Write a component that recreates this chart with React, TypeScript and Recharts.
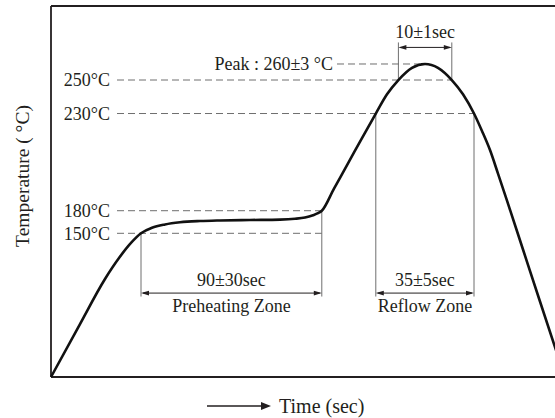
import { LineChart, Line, XAxis, YAxis, ReferenceLine } from 'recharts';

// reflow profile (time axis is schematic, 2px per sec)
const TIME_SEC = [
  0, 14.5, 27, 34, 40, 45, 50.5, 57, 64.5, 74.5, 84.5, 99.5, 114.5, 122, 127, 131, 133.5, 135.4,
  141.5, 148.5, 155.5, 162.4, 168, 173.7, 180.5, 187, 193.5, 200.4, 206, 211.5,
  215.5, 219.5, 223.5, 228, 236, 244.5, 256.9,
];
const TEMP_C = [
  25, 71.1, 110.3, 128.5, 141.6, 150, 157.3, 161.7, 164.6, 166.3, 167.1, 167.7, 168.2, 169.3, 171, 174, 176.7, 180,
  191.4, 204.3, 217.4, 230, 241.5, 250, 257.6, 260, 257.6, 250, 241.5, 230,
  221, 211.2, 199.1, 185.2, 135.9, 90.7, 25,
];

// guide lines
const GUIDE_TEMPS = [250, 230, 180, 150];
const GUIDE_LABELS = ['250°C', '230°C', '180°C', '150°C'];
const GUIDE_START = 33;
const GUIDE_ENDS = [200.4, 211.5, 135.4, 135.4];

const PEAK_TEMP = 260;
const PEAK_LABEL = 'Peak : 260±3 °C';
const PEAK_LINE = [143, 184.5];

// zones: [start, end] in sec, temps where the markers leave the curve
const PREHEAT = [45, 135.4];
const PREHEAT_TEMPS = [150, 180];
const REFLOW = [162.4, 211.5];
const REFLOW_TEMP = 230;
const PEAK_WINDOW = [173.7, 200.4];
const PEAK_WINDOW_TEMP = 250;

// the temperature axis of the drawing is not to scale
const TEMP_KNOTS = [25, 150, 180, 230, 250, 260, 295];
const KNOT_HEIGHTS = [0, 0.3873, 0.4482, 0.7102, 0.8005, 0.8437, 1];

const FONT = "'Liberation Serif', 'Times New Roman', serif";
const INK = '#231f20';
const GUIDE = '#6e6e6e';

const data = TIME_SEC.map((t, i) => ({ t, temp: TEMP_C[i] }));

function schematicScale(): any {
  let dom = [TEMP_KNOTS[0], TEMP_KNOTS[TEMP_KNOTS.length - 1]];
  let rng = [0, 1];
  const frac = (v: number) => {
    const k = TEMP_KNOTS;
    const h = KNOT_HEIGHTS;
    for (let i = 1; i < k.length; i++) {
      if (v <= k[i] || i === k.length - 1) {
        return h[i - 1] + ((v - k[i - 1]) / (k[i] - k[i - 1])) * (h[i] - h[i - 1]);
      }
    }
    return 1;
  };
  const s: any = (v: number) => rng[0] + (rng[1] - rng[0]) * frac(Number(v));
  s.domain = (d?: number[]) => {
    if (d === undefined) return dom.slice();
    dom = d.slice();
    return s;
  };
  s.range = (r?: number[]) => {
    if (r === undefined) return rng.slice();
    rng = r.slice();
    return s;
  };
  s.copy = () => schematicScale().domain(dom).range(rng);
  s.ticks = () => TEMP_KNOTS.slice();
  s.tickFormat = () => (v: number) => String(v);
  s.invert = (px: number) => {
    const f = (px - rng[0]) / (rng[1] - rng[0]);
    const k = TEMP_KNOTS;
    const h = KNOT_HEIGHTS;
    for (let i = 1; i < h.length; i++) {
      if (f <= h[i] || i === h.length - 1) {
        return k[i - 1] + ((f - h[i - 1]) / (h[i] - h[i - 1])) * (k[i] - k[i - 1]);
      }
    }
    return k[k.length - 1];
  };
  s.clamp = () => s;
  s.nice = () => s;
  return s;
}

const tempScale = schematicScale();

const arrowShape = (above?: string, below?: string, gap = 13) => (p: any) => {
  const x1 = Math.min(p.x1, p.x2);
  const x2 = Math.max(p.x1, p.x2);
  const y = p.y1;
  const hl = 8;
  const hw = 2.3;
  return (
    <g>
      <line x1={x1 + 2} y1={y} x2={x2 - 2} y2={y} stroke={INK} strokeWidth={1} />
      <polygon points={`${x1},${y} ${x1 + hl},${y - hw} ${x1 + hl},${y + hw}`} fill={INK} />
      <polygon points={`${x2},${y} ${x2 - hl},${y - hw} ${x2 - hl},${y + hw}`} fill={INK} />
      {above && (
        <text x={(x1 + x2) / 2} y={y - gap} textAnchor="middle" dominantBaseline="central"
          fontFamily={FONT} fontSize={18} fill={INK}>{above}</text>
      )}
      {below && (
        <text x={(x1 + x2) / 2} y={y + gap} textAnchor="middle" dominantBaseline="central"
          fontFamily={FONT} fontSize={18} fill={INK}>{below}</text>
      )}
    </g>
  );
};

const vMarker = (x: number, from: number, to: number, key: string) => (
  <ReferenceLine
    key={key}
    segment={[{ x, y: from }, { x, y: to }]}
    stroke={GUIDE}
    strokeWidth={1}
  />
);

export default function App() {
  const labelStyle = { fill: INK, fontSize: 18, fontFamily: FONT };
  return (
    <div style={{ position: 'absolute', left: 0, top: 0, width: 555, height: 418, overflow: 'hidden', background: '#fff' }}>
      <LineChart width={567} height={418} data={data} margin={{ top: 6, right: 0, bottom: 0, left: 0 }}>
        <XAxis
          dataKey="t"
          type="number"
          domain={[0, 258]}
          height={41}
          tick={false}
          tickLine={false}
          axisLine={false}
          label={(props: any) => {
            const vb = props.viewBox;
            const y = vb.y + 29;
            const x0 = vb.x + 156;
            return (
              <g>
                <line x1={x0} y1={y} x2={x0 + 56} y2={y} stroke={INK} strokeWidth={1.3} />
                <polygon points={`${x0 + 64},${y} ${x0 + 54},${y - 4} ${x0 + 54},${y + 4}`} fill={INK} />
                <text x={x0 + 72} y={y} dominantBaseline="central" fontFamily={FONT} fontSize={20} fill={INK}>
                  Time (sec)
                </text>
              </g>
            );
          }}
        />
        <YAxis
          type="number"
          domain={[25, 295]}
          scale={tempScale}
          width={51}
          tick={false}
          tickLine={false}
          axisLine={false}
          label={(props: any) => {
            const vb = props.viewBox;
            const x = vb.x + 22;
            const y = vb.y + 170;
            return (
              <text x={x} y={y} transform={`rotate(-90 ${x} ${y})`} textAnchor="middle" dominantBaseline="central"
                fontFamily={FONT} fontSize={19.5} fill={INK}>
                Temperature ( °C)
              </text>
            );
          }}
        />
        {/* frame */}
        <ReferenceLine y={295} stroke={INK} strokeWidth={1.8} />
        <ReferenceLine y={25} stroke={INK} strokeWidth={1.8} />
        <ReferenceLine x={0} stroke={INK} strokeWidth={1.8} />

        {GUIDE_TEMPS.map((temp, i) => (
          <ReferenceLine
            key={`g-${temp}`}
            segment={[{ x: GUIDE_START, y: temp }, { x: GUIDE_ENDS[i], y: temp }]}
            stroke={GUIDE}
            strokeWidth={1}
            strokeDasharray="7 4"
            label={{ value: GUIDE_LABELS[i], position: 'left', offset: 7, ...labelStyle }}
          />
        ))}
        <ReferenceLine
          segment={[{ x: PEAK_LINE[0], y: PEAK_TEMP }, { x: PEAK_LINE[1], y: PEAK_TEMP }]}
          stroke={GUIDE}
          strokeWidth={1}
          strokeDasharray="7 4"
          label={{ value: PEAK_LABEL, position: 'left', offset: 4, ...labelStyle }}
        />

        {/* zone markers */}
        {vMarker(PREHEAT[0], PREHEAT_TEMPS[0], 95, 'p0')}
        {vMarker(PREHEAT[1], PREHEAT_TEMPS[1], 95, 'p1')}
        {vMarker(REFLOW[0], REFLOW_TEMP, 95, 'r0')}
        {vMarker(REFLOW[1], REFLOW_TEMP, 95, 'r1')}
        {vMarker(PEAK_WINDOW[0], PEAK_WINDOW_TEMP, 273, 'k0')}
        {vMarker(PEAK_WINDOW[1], PEAK_WINDOW_TEMP, 273, 'k1')}

        <ReferenceLine
          segment={[{ x: PREHEAT[0], y: 98 }, { x: PREHEAT[1], y: 98 }]}
          shape={arrowShape('90±30sec', 'Preheating Zone')}
        />
        <ReferenceLine
          segment={[{ x: REFLOW[0], y: 98 }, { x: REFLOW[1], y: 98 }]}
          shape={arrowShape('35±5sec', 'Reflow Zone')}
        />
        <ReferenceLine
          segment={[{ x: PEAK_WINDOW[0], y: 270 }, { x: PEAK_WINDOW[1], y: 270 }]}
          shape={arrowShape('10±1sec', undefined, 15.5)}
        />

        <Line
          type="monotone"
          dataKey="temp"
          stroke="#111"
          strokeWidth={2.6}
          dot={false}
          activeDot={false}
          isAnimationActive={false}
        />
      </LineChart>
    </div>
  );
}
